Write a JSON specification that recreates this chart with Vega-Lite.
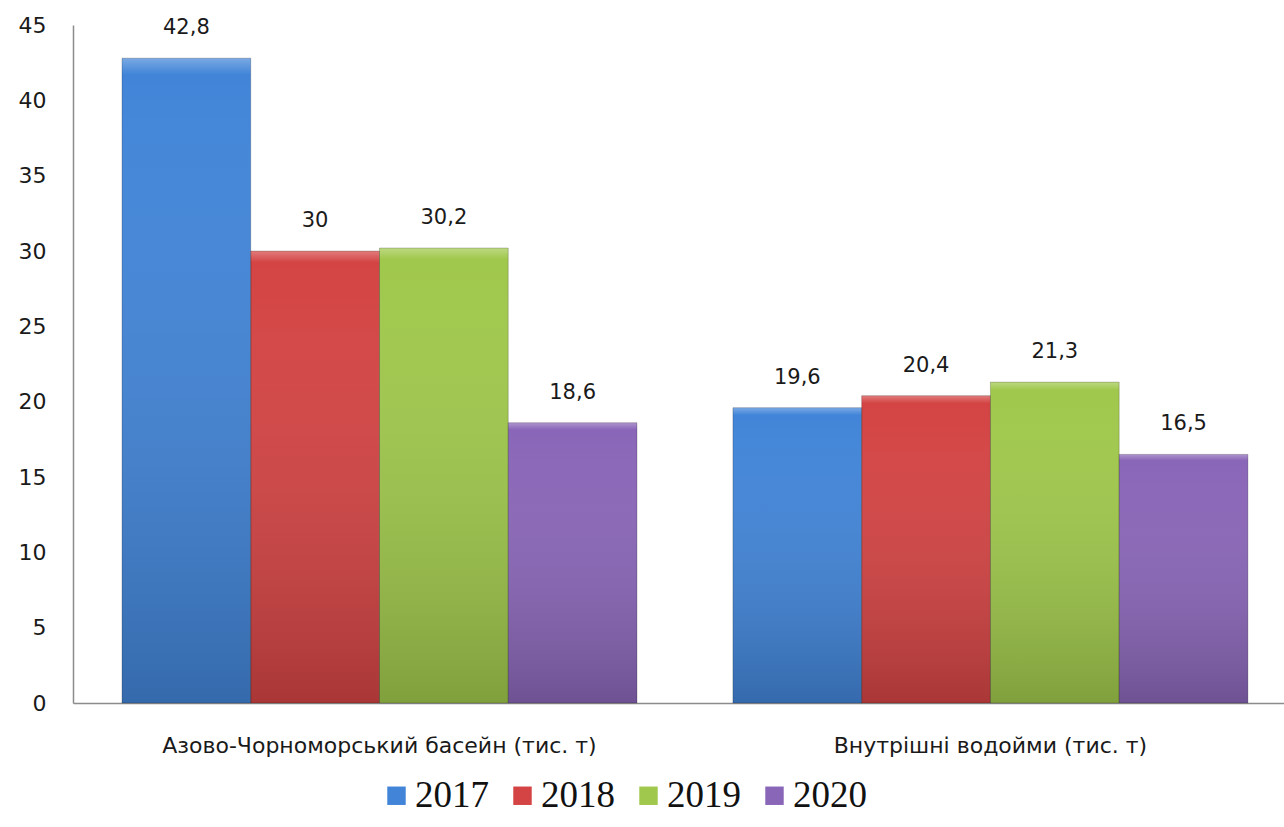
{
  "$schema": "https://vega.github.io/schema/vega-lite/v6.json",
  "width": 1211,
  "height": 678,
  "autosize": {"type": "none"},
  "padding": {"left": 73, "top": 25, "right": 0, "bottom": 124},
  "background": "white",
  "config": {
    "view": {"stroke": null},
    "locale": {"number": {"decimal": ",", "thousands": " ", "grouping": [3], "currency": ["", ""]}}
  },
  "data": {
    "values": [
      {"group": "Азово-Чорноморський басейн (тис. т)", "year": "2017", "value": 42.8},
      {"group": "Азово-Чорноморський басейн (тис. т)", "year": "2018", "value": 30},
      {"group": "Азово-Чорноморський басейн (тис. т)", "year": "2019", "value": 30.2},
      {"group": "Азово-Чорноморський басейн (тис. т)", "year": "2020", "value": 18.6},
      {"group": "Внутрішні водойми (тис. т)", "year": "2017", "value": 19.6},
      {"group": "Внутрішні водойми (тис. т)", "year": "2018", "value": 20.4},
      {"group": "Внутрішні водойми (тис. т)", "year": "2019", "value": 21.3},
      {"group": "Внутрішні водойми (тис. т)", "year": "2020", "value": 16.5}
    ]
  },
  "encoding": {
    "x": {
      "field": "group", "type": "nominal", "sort": null,
      "scale": {"paddingInner": 0.157, "paddingOuter": 0.0696, "align": 0.576},
      "axis": {
        "title": null, "labelAngle": 0, "ticks": false, "domainColor": "#8c8c8c", "domainWidth": 1.5,
        "labelFont": "DejaVu Sans", "labelFontSize": 22, "labelColor": "#1a1a1a", "labelPadding": 32, "labelLimit": 700
      }
    },
    "xOffset": {"field": "year", "type": "nominal", "scale": {"paddingInner": 0, "paddingOuter": 0}},
    "y": {
      "field": "value", "type": "quantitative",
      "scale": {"domain": [0, 45], "nice": false},
      "axis": {
        "title": null, "values": [0, 5, 10, 15, 20, 25, 30, 35, 40, 45], "grid": false, "ticks": false,
        "domainColor": "#8c8c8c", "domainWidth": 1.5,
        "labelFont": "DejaVu Sans", "labelFontSize": 22, "labelColor": "#1a1a1a", "labelPadding": 27
      }
    }
  },
  "layer": [
    {
      "mark": {"type": "bar"},
      "encoding": {
        "color": {
          "field": "year", "type": "nominal",
          "scale": {"domain": ["2017", "2018", "2019", "2020"], "range": ["#4285d8", "#d44444", "#a0c84c", "#8a66b8"]},
          "legend": {
            "title": null, "orient": "none", "direction": "horizontal", "legendX": 305, "legendY": 752,
            "symbolType": "square", "symbolSize": 340, "symbolStrokeWidth": 0, "symbolOpacity": 1,
            "labelFont": "Liberation Serif", "labelFontSize": 37, "labelColor": "#111",
            "labelOffset": 0, "columnPadding": 15, "labelLimit": 200
          }
        }
      }
    },
    {
      "mark": {
        "type": "bar",
        "stroke": "#000000", "strokeOpacity": 0.2, "strokeWidth": 1,
        "color": {
          "gradient": "linear", "x1": 0, "y1": 0, "x2": 0, "y2": 1,
          "stops": [
            {"offset": 0, "color": "rgba(255,255,255,0.3)"},
            {"offset": 0.025, "color": "rgba(255,255,255,0)"},
            {"offset": 1, "color": "rgba(0,0,0,0.2)"}
          ]
        }
      },
      "encoding": {}
    },
    {
      "mark": {"type": "text", "baseline": "middle", "dy": -30, "font": "DejaVu Sans", "fontSize": 21, "color": "#1a1a1a"},
      "encoding": {
        "text": {"field": "value", "type": "quantitative", "format": ".1~f"}
      }
    }
  ]
}
